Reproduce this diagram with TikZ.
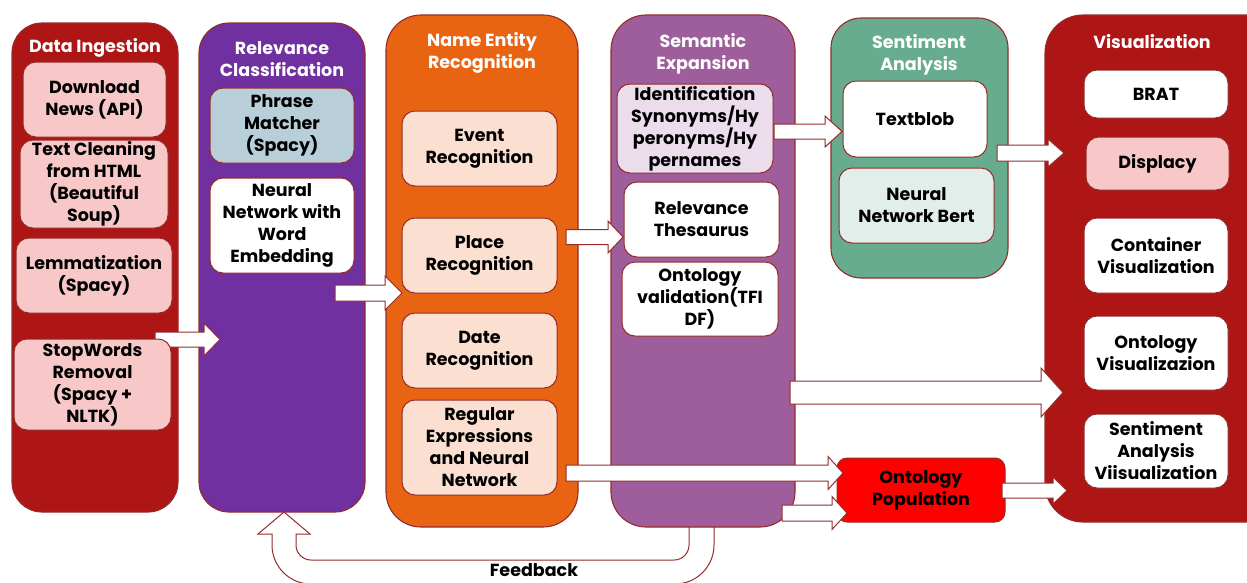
\documentclass[tikz,border=0pt]{standalone}
\usepackage{fontspec}
\setmainfont{Poppins}

\definecolor{edgered}{HTML}{952B2B}
\definecolor{stagered}{HTML}{AE1515}
\definecolor{stagepurple}{HTML}{7030A0}
\definecolor{stageorange}{HTML}{E86413}
\definecolor{stagemauve}{HTML}{9E5E9B}
\definecolor{stagegreen}{HTML}{68AC8F}
\definecolor{pinkbox}{HTML}{F8C8C8}
\definecolor{bluebox}{HTML}{B8CFD9}
\definecolor{peachbox}{HTML}{FBE0D1}
\definecolor{lavbox}{HTML}{EBDDEC}
\definecolor{mintbox}{HTML}{E1EEEA}
\definecolor{popred}{HTML}{FF0000}

% straight block arrow: start x, centre y, head base x, tip x, shaft half width, head half width
\newcommand\blockarrow[6]{%
  \draw[barrow] (#1,#2-#5) -- (#3,#2-#5) -- (#3,#2-#6) -- (#4,#2)
    -- (#3,#2+#6) -- (#3,#2+#5) -- (#1,#2+#5) -- cycle;}

% rectangle node given by its corners: [style] name x1 y1 x2 y2 text
\newcommand\boxat[7][]{%
  \node[#1, minimum width={#5-#3}, minimum height={#6-#4}]
    (#2) at ({(#3+#5)/2},{(#4+#6)/2}) {#7};}

\begin{document}
\begin{tikzpicture}[x=1pt,y=-1pt,
  txt/.style={font=\bfseries\fontsize{17.5}{22}\selectfont, align=center},
  panel/.style={draw=edgered, line width=1.1pt, inner sep=0pt},
  stagetitle/.style={txt, text=white, inner sep=0pt},
  sub/.style={txt, draw=edgered, line width=1pt, rounded corners=13pt, inner sep=0pt, text=black},
  barrow/.style={draw=edgered, line width=1pt, fill=white, line join=miter}]
\useasboundingbox (0,0) rectangle (1247,582);
\clip (0,0) rectangle (1247,582);

% feedback loop from the semantic stage back to relevance classification
\draw[barrow] (714,520) [rounded corners=39pt] -- (714,584) -- (272,584) [sharp corners]
  -- (272,534) -- (258,534) -- (284,512) -- (310,534) -- (296,534)
  [rounded corners=15pt] -- (296,560) -- (689,560) [sharp corners] -- (689,520) -- cycle;
\node[txt, inner sep=0pt] (fb) at (534,570) {Feedback};

% stage panels
\boxat[panel, fill=stagered, rounded corners=30pt]{di}{12}{23}{178}{512}{}
\boxat[panel, fill=stagepurple, rounded corners=30pt]{rc}{199}{23}{365}{512}{}
\boxat[panel, fill=stageorange, rounded corners=35pt]{ner}{386}{15}{578}{527}{}
\boxat[panel, fill=stagemauve, rounded corners=35pt]{sem}{611}{15}{795}{527}{}
\boxat[panel, fill=stagegreen, rounded corners=30pt]{sa}{831}{18}{1008}{278}{}
\boxat[panel, fill=stagered, rounded corners=38pt]{viz}{1045}{15}{1300}{522}{}

% stage titles
\node[stagetitle] (tdi) at (95,48) {Data Ingestion};
\node[stagetitle] (trc) at (282,59) {Relevance\\Classification};
\node[stagetitle] (tner) at (482,53) {Name Entity\\Recognition};
\node[stagetitle] (tsem) at (703,54) {Semantic\\Expansion};
\node[stagetitle] (tsa) at (919,55) {Sentiment\\Analysis};
\node[stagetitle] (tviz) at (1152,42) {Visualization};

% flow arrows lying under the step boxes
\blockarrow{155}{339.5}{204}{220}{7.5}{16.5}
\blockarrow{335}{293}{385}{402}{8}{17}
\blockarrow{566}{237}{608}{623}{7.5}{16}
\blockarrow{774}{131.5}{825}{842}{7.5}{15.5}
\blockarrow{997}{153}{1048}{1064}{8}{14}
\blockarrow{790}{392.5}{1041}{1063}{11.5}{24.5}

% data ingestion steps
\boxat[sub, fill=pinkbox]{dl}{23}{62}{166}{137}{Download\\News (API)}
\boxat[sub, fill=pinkbox]{tc}{20}{140}{168}{228}{Text Cleaning\\from HTML\\(Beautiful\\Soup)}
\boxat[sub, fill=pinkbox]{lem}{16}{238}{172}{313}{Lemmatization\\(Spacy)}
\boxat[sub, fill=pinkbox]{sw}{14}{339}{171}{430}{StopWords\\Removal\\(Spacy +\\NLTK)}

% relevance classification steps
\boxat[sub, fill=bluebox]{pm}{210}{88}{354}{163}{Phrase\\Matcher\\(Spacy)}
\boxat[sub, fill=white]{nn}{210}{178}{354}{273}{Neural\\Network with\\Word\\Embedding}

% named entity recognition steps
\boxat[sub, fill=peachbox]{ev}{402}{111}{557}{186}{Event\\Recognition}
\boxat[sub, fill=peachbox]{pl}{402}{218}{557}{293}{Place\\Recognition}
\boxat[sub, fill=peachbox]{dt}{402}{313}{557}{388}{Date\\Recognition}
\boxat[sub, fill=peachbox]{rx}{402}{400}{557}{495}{Regular\\Expressions\\and Neural\\Network}

% semantic expansion steps
\boxat[sub, fill=lavbox]{idf}{617}{84}{773}{173}{Identification\\Synonyms/Hy\\peronyms/Hy\\pernames}
\boxat[sub, fill=white]{th}{624}{182}{779}{257}{Relevance\\Thesaurus}
\boxat[sub, fill=white]{ov}{622}{262}{778}{336}{Ontology\\validation(TFI\\DF)}

% sentiment analysis steps
\boxat[sub, fill=white]{tb}{843}{81}{987}{157}{Textblob}
\boxat[sub, fill=mintbox]{bert}{839}{168}{994}{243}{Neural\\Network Bert}

% visualization steps
\boxat[sub, fill=white]{brat}{1084}{70}{1228}{118}{BRAT}
\boxat[sub, fill=pinkbox]{dcy}{1086}{137}{1229}{190}{Displacy}
\boxat[sub, fill=white]{cv}{1084}{218}{1228}{293}{Container\\Visualization}
\boxat[sub, fill=white]{ovz}{1084}{316}{1228}{390}{Ontology\\Visualizazion}
\boxat[sub, fill=white]{sav}{1084}{414}{1228}{488}{Sentiment\\Analysis\\Viisualization}

% ontology population
\boxat[sub, fill=popred, rounded corners=10pt]{op}{837}{458}{1005}{522}{Ontology\\Population}

% arrows into and out of ontology population
\blockarrow{566}{473}{828}{843}{8}{16.5}
\blockarrow{782}{513}{832}{847}{8}{16.5}
\blockarrow{1002}{490.5}{1053}{1067}{7.5}{13.5}
\end{tikzpicture}
\end{document}
